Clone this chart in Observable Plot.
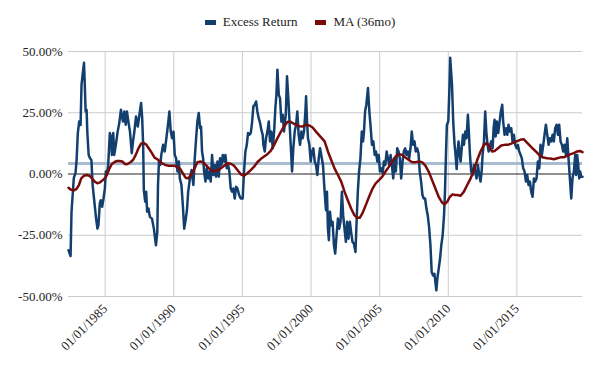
<!DOCTYPE html>
<html><head><meta charset="utf-8">
<script src="https://cdn.jsdelivr.net/npm/d3@7"></script>
<script src="https://cdn.jsdelivr.net/npm/@observablehq/plot@0.6"></script>
<style>
body{margin:0;background:#fff;font-family:Georgia,'Times New Roman',Times,'Liberation Serif','DejaVu Serif','Noto Serif',serif;}
#legend{height:44px;display:flex;justify-content:center;align-items:center;gap:18px;font-size:13px;color:#222;}
.item{display:flex;align-items:center;gap:7px}
.sw{width:11px;height:5px;display:inline-block}
svg text{font-family:Georgia,'Times New Roman',Times,'Liberation Serif','DejaVu Serif','Noto Serif',serif;}
</style></head><body>
<div id="legend"></div><div id="chart"></div>
<script>
// Excess return (%), by decimal year
const retYears = [1982.33,1982.48,1982.55,1982.65,1982.72,1982.84,1982.92,1983.01,1983.11,1983.21,1983.28,1983.36,1983.46,1983.50,1983.58,1983.65,1983.70,1983.80,1983.90,1984.00,1984.09,1984.19,1984.34,1984.44,1984.51,1984.61,1984.68,1984.78,1984.88,1984.98,1985.05,1985.12,1985.22,1985.34,1985.42,1985.49,1985.59,1985.66,1985.78,1985.91,1986.03,1986.15,1986.23,1986.30,1986.40,1986.50,1986.59,1986.69,1986.81,1986.94,1987.03,1987.13,1987.25,1987.38,1987.50,1987.62,1987.70,1987.77,1987.82,1987.92,1987.99,1988.06,1988.16,1988.26,1988.41,1988.55,1988.70,1988.80,1988.85,1988.92,1989.02,1989.09,1989.22,1989.34,1989.46,1989.58,1989.68,1989.78,1989.88,1989.98,1990.07,1990.17,1990.27,1990.37,1990.44,1990.56,1990.66,1990.76,1990.86,1990.96,1991.05,1991.18,1991.30,
1991.43,1991.53,1991.63,1991.72,1991.82,1991.92,1991.99,1992.06,1992.14,1992.21,1992.31,1992.40,1992.50,1992.60,1992.69,1992.79,1992.89,1992.99,1993.08,1993.18,1993.28,1993.37,1993.47,1993.57,1993.67,1993.76,1993.86,1993.96,1994.05,1994.15,1994.25,1994.34,1994.44,1994.54,1994.64,1994.76,1994.88,1995.02,1995.12,1995.22,1995.32,1995.41,1995.51,1995.61,1995.70,1995.80,1995.90,1996.00,1996.09,1996.19,1996.29,1996.38,1996.48,1996.53,1996.63,1996.72,1996.82,1996.92,1997.01,1997.11,1997.21,1997.31,1997.40,1997.48,1997.55,1997.65,1997.74,1997.84,1997.94,1998.03,1998.16,1998.25,1998.33,1998.42,1998.52,1998.62,1998.71,1998.81,1998.91,1999.00,1999.10,1999.20,1999.30,1999.39,1999.49,1999.59,1999.64,1999.71,1999.78,1999.88,1999.98,2000.07,2000.17,2000.27,2000.36,2000.46,2000.56,2000.66,
2000.87,2000.99,2001.09,2001.16,2001.23,2001.30,2001.38,2001.47,2001.57,2001.67,2001.76,2001.86,2001.96,2002.05,2002.15,2002.25,2002.34,2002.44,2002.54,2002.63,2002.73,2002.83,2002.92,2003.02,2003.12,2003.24,2003.31,2003.41,2003.50,2003.60,2003.70,2003.79,2003.86,2003.94,2004.03,2004.15,2004.25,2004.35,2004.44,2004.54,2004.64,2004.73,2004.83,2004.93,2005.02,2005.12,2005.22,2005.31,2005.41,2005.51,2005.60,2005.70,2005.80,2005.89,2005.99,2006.09,2006.18,2006.28,2006.38,2006.47,2006.57,2006.67,2006.76,2006.86,2006.96,2007.05,2007.15,2007.25,2007.34,2007.44,2007.54,2007.63,2007.73,2007.83,2007.92,2008.02,2008.12,2008.21,2008.31,2008.41,2008.50,2008.60,2008.70,2008.79,2008.89,2008.99,2009.06,2009.13,2009.20,2009.30,2009.40,2009.49,2009.59,2009.69,2009.76,2009.83,2009.90,2010.00,2010.07,2010.14,
2010.27,2010.36,2010.46,2010.53,2010.61,2010.68,2010.75,2010.83,2010.90,2011.00,2011.07,2011.14,2011.24,2011.33,2011.43,2011.50,2011.58,2011.67,2011.77,2011.87,2011.96,2012.06,2012.16,2012.26,2012.35,2012.43,2012.50,2012.60,2012.69,2012.77,2012.86,2012.94,2013.03,2013.13,2013.23,2013.30,2013.37,2013.45,2013.54,2013.64,2013.74,2013.83,2013.93,2014.00,2014.10,2014.20,2014.30,2014.39,2014.49,2014.59,2014.68,2014.78,2014.88,2014.98,2015.07,2015.17,2015.27,2015.36,2015.46,2015.56,2015.66,2015.75,2015.85,2015.95,2016.04,2016.14,2016.24,2016.33,2016.43,2016.53,2016.63,2016.72,2016.82,2016.92,2017.01,2017.11,2017.21,2017.31,2017.40,2017.50,2017.60,2017.69,2017.79,2017.89,2017.99,2018.08,2018.18,2018.28,2018.37,2018.47,2018.57,2018.67,2018.76,2018.86,2018.96,2019.05,2019.15,2019.25,2019.32,2019.39,2019.47,2019.54,2019.61,2019.68,2019.78];
const retValues = [-31.1,-33.5,-15.4,-7.2,-1.5,0.3,5.7,16.7,21.4,20.0,36.5,40.6,45.4,39.2,25.5,26.2,17.3,7.8,6.4,5.7,-4.5,-10.0,-18.2,-22.3,-21.0,-12.0,-10.7,-13.4,-10.0,-5.9,1.0,-0.4,3.7,16.7,15.3,7.8,16.7,7.8,11.9,17.3,20.8,26.2,23.5,21.4,25.5,20.1,25.5,21.4,17.3,8.5,13.3,17.3,23.5,19.4,24.2,29.0,22.8,11.9,-6.6,-11.3,-7.2,-15.4,-14.1,-17.5,-18.2,-22.3,-29.1,-23.6,-4.5,5.1,3.7,7.8,11.9,9.2,14.6,20.1,25.5,17.3,14.6,17.3,7.8,6.4,1.0,5.1,-1.8,-4.5,-12.7,-22.3,-18.9,-14.8,-7.2,-1.8,1.6,
-4.5,6.4,14.6,21.4,24.9,18.7,19.4,9.2,6.4,1.0,-3.1,2.3,-1.8,1.0,-3.1,7.8,-0.4,3.7,-1.1,5.1,-1.1,6.4,3.7,7.8,5.1,7.8,2.3,3.7,1.0,-5.9,-7.2,-5.9,-10.0,-5.2,-5.9,-8.6,-10.0,-10.0,1.0,9.2,11.9,16.7,16.0,16.7,20.8,27.6,28.3,29.6,25.5,22.8,20.8,18.0,16.0,11.9,9.2,14.6,17.3,21.4,13.3,17.3,10.5,17.3,26.9,32.4,42.6,32.4,31.0,21.4,24.2,17.3,24.2,39.9,32.4,22.8,11.9,1.0,10.5,17.3,20.1,25.5,16.0,11.9,17.3,14.6,17.3,25.5,31.7,21.4,14.6,11.9,5.1,9.2,10.5,5.1,3.7,-0.4,6.4,10.5,
3.7,-7.2,-14.8,-7.2,-22.3,-27.0,-15.4,-20.9,-19.5,-29.1,-32.5,-25.0,-18.2,-22.3,-19.5,-7.2,-16.8,-22.3,-27.7,-19.5,-26.4,-19.5,-23.6,-27.7,-28.4,-31.8,-20.9,-7.2,1.0,6.4,17.3,13.3,17.3,25.5,28.3,35.1,25.5,18.7,11.9,13.3,7.8,9.2,5.1,7.8,1.0,2.3,0.3,5.1,3.7,9.2,6.4,3.7,7.8,3.7,-1.8,6.4,1.0,10.5,9.2,6.4,-1.8,5.1,9.2,10.5,7.8,9.2,6.4,10.5,17.3,11.9,13.3,9.2,10.5,8.5,1.0,-3.1,-8.6,-10.0,-10.0,-14.1,-16.8,-21.6,-29.1,-40.0,-41.4,-40.7,-44.1,-47.5,-42.8,-38.7,-34.6,-29.1,-25.0,-16.8,-7.2,7.8,20.1,21.4,32.4,47.4,
36.5,21.4,11.9,7.8,2.0,9.2,13.3,7.8,5.1,11.9,16.0,11.9,17.3,14.6,24.2,17.3,7.8,1.0,-0.4,3.7,1.0,-1.8,3.7,-0.4,-3.1,1.0,7.8,13.3,25.5,17.3,11.9,9.2,11.9,13.3,10.5,18.7,22.1,15.3,21.4,16.7,21.4,25.5,28.3,21.4,16.0,18.7,16.0,20.1,17.3,18.7,13.3,16.0,11.9,10.5,11.9,9.2,7.8,6.4,2.3,1.0,-3.1,-0.4,-4.5,-3.1,-7.2,-9.3,-1.8,-3.1,-1.8,5.1,2.3,11.9,7.8,11.9,16.0,20.1,16.0,11.9,14.6,13.3,16.0,13.3,18.7,20.1,16.0,20.1,13.3,11.9,9.2,11.9,7.8,14.6,6.4,-1.8,-10.0,-1.8,1.0,7.8,-0.4,7.8,3.7,-1.8,1.0,-1.1,-1.1];

// 36-month moving average (%), by decimal year
const maYears = [1982.33,1982.48,1982.72,1982.92,1983.09,1983.26,1983.46,1983.65,1983.85,1984.04,1984.24,1984.44,1984.63,1984.83,1985.02,1985.17,1985.32,1985.47,1985.66,1985.86,1986.05,1986.25,1986.45,1986.64,1986.84,1987.03,1987.23,1987.43,1987.62,1987.82,1988.01,1988.21,1988.41,1988.60,1988.80,1989.00,1989.19,1989.39,1989.58,1989.83,1990.07,1990.27,1990.47,1990.66,1990.86,1991.05,1991.25,1991.48,1991.72,1991.97,1992.21,1992.45,1992.69,1992.94,1993.18,1993.42,1993.67,1993.91,1994.15,1994.39,1994.64,1994.88,1995.12,1995.36,1995.61,1995.85,1996.09,1996.33,1996.58,1996.82,1997.06,1997.31,1997.55,1997.79,1998.03,1998.28,1998.47,1998.67,1998.91,1999.15,1999.39,1999.64,1999.88,2000.12,2000.36,2000.99,2001.23,2001.47,2001.71,2001.96,2002.20,2002.44,2002.68,2002.92,2003.16,2003.36,2003.55,2003.74,2003.99,2004.23,2004.47,2004.71,2004.95,2005.19,2005.43,2005.68,2005.92,2006.16,2006.40,2006.64,2006.88,2007.13,2007.37,2007.61,2007.85,2008.09,2008.33,2008.57,2008.82,2009.06,2009.30,2009.54,2009.73,2009.93,2010.12,2010.31,2010.51,2010.66,2010.90,2011.14,2011.38,2011.63,2011.87,2012.11,2012.35,2012.60,2012.79,2012.99,2013.18,2013.37,2013.62,2013.86,2014.10,2014.34,2014.59,2014.83,2015.07,2015.32,2015.51,2015.70,2015.95,2016.19,2016.43,2016.67,2016.92,2017.21,2017.45,2017.69,2017.94,2018.18,2018.42,2018.67,2018.91,2019.15,2019.39,2019.59,2019.78];
const maValues = [-5.6,-6.3,-6.7,-6.1,-4.5,-1.8,-0.7,-0.4,-0.7,-1.8,-3.1,-3.8,-3.4,-2.5,-1.5,0.3,2.3,4.0,4.8,5.3,5.3,5.1,4.0,4.1,4.8,5.7,7.8,10.5,12.4,12.7,11.9,10.2,8.5,6.7,6.0,5.1,4.2,3.7,3.4,3.4,3.4,2.7,2.1,0.3,-1.5,-1.8,-0.3,1.8,4.8,5.1,4.4,3.0,1.6,1.2,1.4,2.3,3.4,4.4,4.2,3.4,1.6,-0.1,-0.7,0.3,1.6,3.0,4.8,6.1,7.1,8.1,9.4,11.9,14.6,17.1,19.4,21.2,21.4,20.8,20.1,19.5,19.4,20.1,19.8,19.0,17.3,13.3,9.2,5.7,2.3,-0.4,-3.1,-7.2,-10.7,-14.1,-16.8,-17.9,-17.9,-16.1,-12.7,-9.3,-6.1,-3.8,-2.5,-1.1,1.0,3.0,5.1,7.1,8.1,7.8,6.7,5.7,4.8,4.8,5.1,4.8,3.4,1.0,-2.5,-5.9,-9.3,-11.6,-12.4,-11.3,-9.3,-8.3,-8.6,-8.6,-8.9,-7.2,-4.5,-1.8,1.6,5.7,9.2,11.9,12.6,11.2,9.2,9.4,10.5,11.6,11.9,11.9,12.4,13.0,13.5,14.1,14.2,13.0,11.6,10.2,8.9,7.5,6.7,6.4,6.3,6.0,6.4,6.8,6.8,7.5,8.1,8.5,9.2,9.4,8.9];

const avgReturn = 4.3;
const tickYears = [1985, 1990, 1995, 2000, 2005, 2010, 2015];
const yTicks = [-50, -25, 0, 25, 50];
const seriesNames = ["Excess Return", "MA (36mo)"];
const seriesColors = ["#123f6e", "#7a0b0b"];
const serifStack = "Georgia, 'Times New Roman', Times, 'Liberation Serif', 'DejaVu Serif', 'Noto Serif', serif";

const toDate = y => { const yr = Math.floor(y); const s = Date.UTC(yr,0,1), e = Date.UTC(yr+1,0,1); return new Date(s + (y-yr)*(e-s)); };
const ret = retYears.map((y,i) => ({date: toDate(y), value: retValues[i]}));
const ma = maYears.map((y,i) => ({date: toDate(y), value: maValues[i]}));
const xTicks = tickYears.map(y => new Date(Date.UTC(y,0,1)));

const legend = document.getElementById("legend");
seriesNames.forEach((n,i) => {
  const it = document.createElement("div"); it.className = "item";
  const sw = document.createElement("span"); sw.className = "sw"; sw.style.background = seriesColors[i];
  const t = document.createElement("span"); t.textContent = n;
  it.append(sw, t); legend.append(it);
});

const chart = Plot.plot({
  width: 600, height: 327,
  marginLeft: 68, marginRight: 18, marginTop: 7, marginBottom: 75,
  style: {fontFamily: serifStack, fontSize: "13px", color: "#222", background: "#fff"},
  x: {type: "utc", domain: d3.extent(ret, d => d.date)},
  y: {domain: [-50, 50]},
  marks: [
    Plot.gridX(xTicks, {stroke: "#cccccc", strokeOpacity: 1}),
    Plot.gridY(yTicks.filter(v => v !== 0), {stroke: "#cccccc", strokeOpacity: 1}),
    Plot.ruleY([avgReturn], {stroke: "#a9bccf", strokeWidth: 3}),
    Plot.ruleY([0], {stroke: "#222", strokeWidth: 1}),
    Plot.line(ret, {x: "date", y: "value", stroke: seriesColors[0], strokeWidth: 2.5}),
    Plot.line(ma, {x: "date", y: "value", stroke: seriesColors[1], strokeWidth: 2.5}),
    Plot.axisY({ticks: yTicks, tickFormat: d => d.toFixed(2) + "%", tickSize: 0, tickPadding: 6, label: null}),
    Plot.axisX({ticks: xTicks, tickFormat: d => "01/01/" + d.getUTCFullYear(), tickRotate: -45, tickSize: 0, tickPadding: 10, label: null})
  ]
});
document.getElementById("chart").append(chart);
</script></body></html>
